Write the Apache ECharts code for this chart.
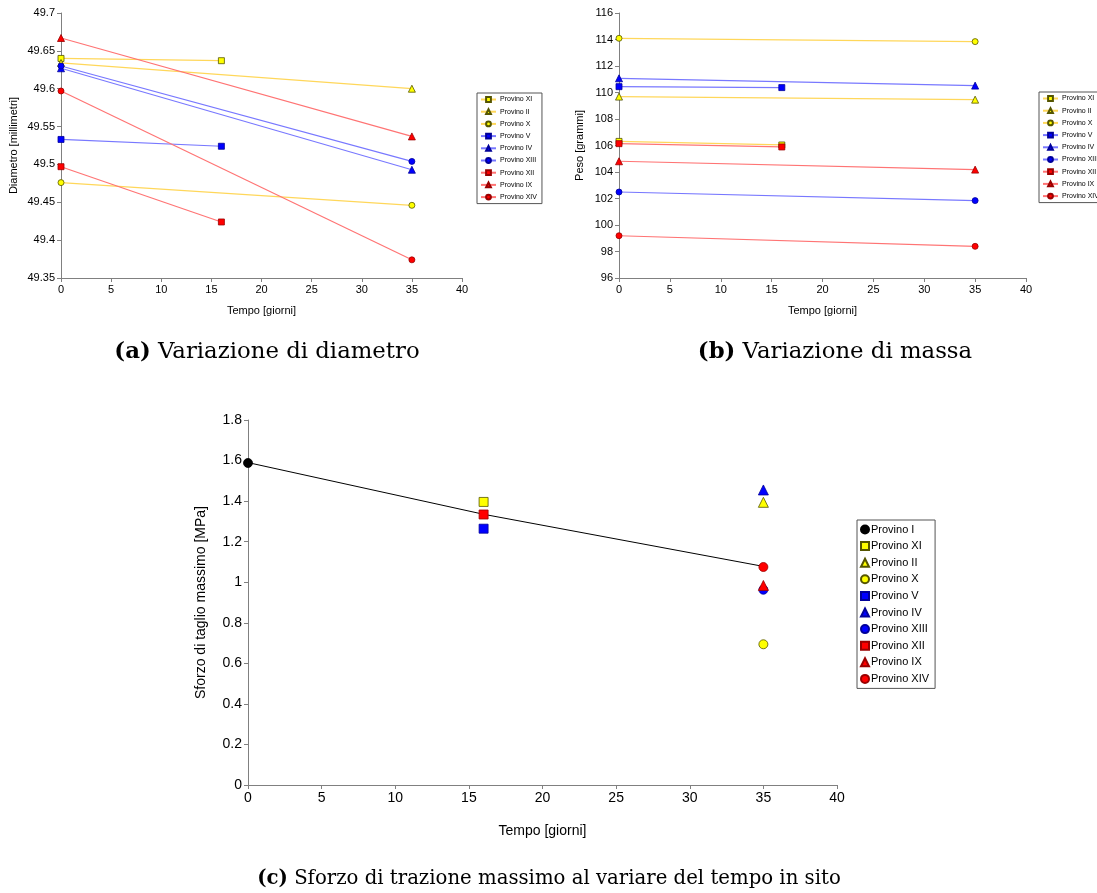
<!DOCTYPE html>
<html><head><meta charset="utf-8">
<script src="https://cdn.jsdelivr.net/npm/echarts@6/dist/echarts.min.js"></script>
<style>html,body{margin:0;padding:0;background:#fff}#c{width:1097px;height:893px}</style>
</head><body><div id="c"></div>
<script>
// ---- data ----
const names = ['Provino XI','Provino II','Provino X','Provino V','Provino IV','Provino XIII','Provino XII','Provino IX','Provino XIV'];
const daysAB = [[0,16],[0,35],[0,35],[0,16],[0,35],[0,35],[0,16],[0,35],[0,35]];
const diamXI = [49.640, 49.637];
const diamII = [49.634, 49.600];
const diamX = [49.476, 49.446];
const diamV = [49.533, 49.524];
const diamIV = [49.627, 49.493];
const diamXIII = [49.630, 49.504];
const diamXII = [49.497, 49.424];
const diamIX = [49.667, 49.537];
const diamXIV = [49.597, 49.374];
const pesoXI = [106.31, 106.04];
const pesoII = [109.69, 109.46];
const pesoX = [114.09, 113.84];
const pesoV = [110.44, 110.37];
const pesoIV = [111.07, 110.52];
const pesoXIII = [102.49, 101.84];
const pesoXII = [106.14, 105.89];
const pesoIX = [104.81, 104.18];
const pesoXIV = [99.19, 98.39];
const namesC = ['Provino I','Provino XI','Provino II','Provino X','Provino V','Provino IV','Provino XIII','Provino XII','Provino IX','Provino XIV'];
const daysC = [0, 16, 35, 35, 16, 35, 35, 16, 35, 35];
const sforzo = [1.588, 1.396, 1.394, 0.694, 1.264, 1.455, 0.963, 1.334, 0.984, 1.075];
const trendDays = [0, 16, 35];
const trendVals = [1.59, 1.335, 1.078];

const diam = [diamXI,diamII,diamX,diamV,diamIV,diamXIII,diamXII,diamIX,diamXIV];
const peso = [pesoXI,pesoII,pesoX,pesoV,pesoIV,pesoXIII,pesoXII,pesoIX,pesoXIV];

// ---- styles ----
const sym = {XI:'rect',II:'triangle',X:'circle',V:'rect',IV:'triangle',XIII:'circle',XII:'rect',IX:'triangle',XIV:'circle',I:'circle'};
const fam = {XI:'y',II:'y',X:'y',V:'b',IV:'b',XIII:'b',XII:'r',IX:'r',XIV:'r',I:'k'};
const fill = {y:'#FFFF00',b:'#0000FF',r:'#FF0000',k:'#000000'};
const border = {y:'#555500',b:'#000099',r:'#990000',k:'#000000'};
const lineCol = {y:'#FFD75A',b:'#7878FF',r:'#FF7474'};
const key = n => n.replace('Provino ','');

const FONT = 'Liberation Sans, Arial, sans-serif';

function axisX(gi, fs, gap){
  return {type:'value', gridIndex:gi, min:0, max:40, interval:5,
    name:'Tempo [giorni]', nameLocation:'middle', nameGap:gap,
    nameTextStyle:{fontFamily:FONT, fontSize:fs, color:'#000'},
    axisLine:{show:true, lineStyle:{color:'#808080', width:1}},
    axisTick:{show:true, inside:false, length:4, lineStyle:{color:'#808080'}},
    axisLabel:{fontFamily:FONT, fontSize:fs, color:'#000', margin:6},
    splitLine:{show:false}};
}
function axisY(gi, name, min, max, interval, fs, gap){
  return {type:'value', gridIndex:gi, min:min, max:max, interval:interval,
    name:name, nameLocation:'middle', nameGap:gap,
    nameTextStyle:{fontFamily:FONT, fontSize:fs, color:'#000'},
    axisLine:{show:true, onZero:false, lineStyle:{color:'#808080', width:1}},
    axisTick:{show:true, inside:false, length:4, lineStyle:{color:'#808080'}},
    axisLabel:{fontFamily:FONT, fontSize:fs, color:'#000', margin:6},
    splitLine:{show:false}};
}

const series = [];
['a','b'].forEach((p, gi) => {
  const vals = gi === 0 ? diam : peso;
  names.forEach((n, i) => {
    const k = key(n), f = fam[k];
    series.push({
      name: p + ':' + n, type:'line', xAxisIndex:gi, yAxisIndex:gi,
      data: daysAB[i].map((d, j) => [d, vals[i][j]]),
      symbol: sym[k], symbolSize: sym[k]==='triangle' ? 7 : 6,
      lineStyle:{color:lineCol[f], width:1.2},
      itemStyle:{color:fill[f], borderColor:border[f], borderWidth:0.8},
      emphasis:{disabled:true}, animation:false, z:3
    });
  });
});
series.push({name:'trend', type:'line', xAxisIndex:2, yAxisIndex:2,
  data: trendDays.map((d,i)=>[d, trendVals[i]]), symbol:'none',
  lineStyle:{color:'#000', width:1}, emphasis:{disabled:true}, animation:false, z:2});
namesC.forEach((n, i) => {
  const k = key(n), f = fam[k];
  series.push({
    name: 'c:' + n, type:'scatter', xAxisIndex:2, yAxisIndex:2,
    data: [[daysC[i], sforzo[i]]],
    symbol: sym[k], symbolSize: sym[k]==='triangle' ? 10 : 9,
    itemStyle:{color:fill[f], borderColor:border[f], borderWidth:0.8, opacity:1},
    emphasis:{disabled:true}, animation:false, z:4
  });
});

function legendAB(p, left, top){
  return {show:true, orient:'vertical', left:left, top:top,
    data: names.map(n => p + ':' + n),
    formatter: s => s.slice(2),
    itemWidth:15, itemHeight:6, itemGap:5.2, padding:[3,5,3,3],
    borderColor:'#555', borderWidth:1, selectedMode:false,
    textStyle:{fontFamily:FONT, fontSize:7, color:'#000', padding:[0,0,0,-1]},
  };
}

function caption(x, y, tag, txt, fs){
  return {type:'text', x:x, y:y, style:{text:'{b|' + tag + '} ' + txt,
    rich:{b:{fontWeight:'bold', fontFamily:'DejaVu Serif', fontSize:fs}},
    fontFamily:'DejaVu Serif', fontSize:fs, fill:'#000', align:'center', verticalAlign:'middle'}};
}

const option = {
  backgroundColor:'#fff', animation:false,
  grid:[
    {left:61, top:13, width:401, height:265},
    {left:619, top:13, width:407, height:265},
    {left:248, top:420, width:589, height:365}
  ],
  xAxis:[axisX(0, 11, 27), axisX(1, 11, 27), axisX(2, 14, 39)],
  yAxis:[
    axisY(0, 'Diametro [millimetri]', 49.35, 49.7, 0.05, 11, 42),
    axisY(1, 'Peso [grammi]', 96, 116, 2, 11, 34),
    axisY(2, 'Sforzo di taglio massimo [MPa]', 0, 1.8, 0.2, 14, 40)
  ],
  legend:[
    legendAB('a', 477, 93),
    legendAB('b', 1039, 92),
    {show:true, orient:'vertical', left:857, top:520,
     data: namesC.map(n => 'c:' + n), formatter: s => s.slice(2),
     itemWidth:8, itemHeight:8, itemGap:5.6, padding:[4,6,4,3],
     borderColor:'#555', borderWidth:1, selectedMode:false,
     textStyle:{fontFamily:FONT, fontSize:11, color:'#000', padding:[0,0,0,-3]}}
  ],
  series: series,
  graphic:[
    caption(267, 352, '(a)', 'Variazione di diametro', 22.8),
    caption(835, 352, '(b)', 'Variazione di massa', 22.8),
    caption(549, 879, '(c)', 'Sforzo di trazione massimo al variare del tempo in sito', 19.7)
  ]
};
const chart = echarts.init(document.getElementById('c'), null, {renderer:'canvas'});
chart.setOption(option);
</script></body></html>
